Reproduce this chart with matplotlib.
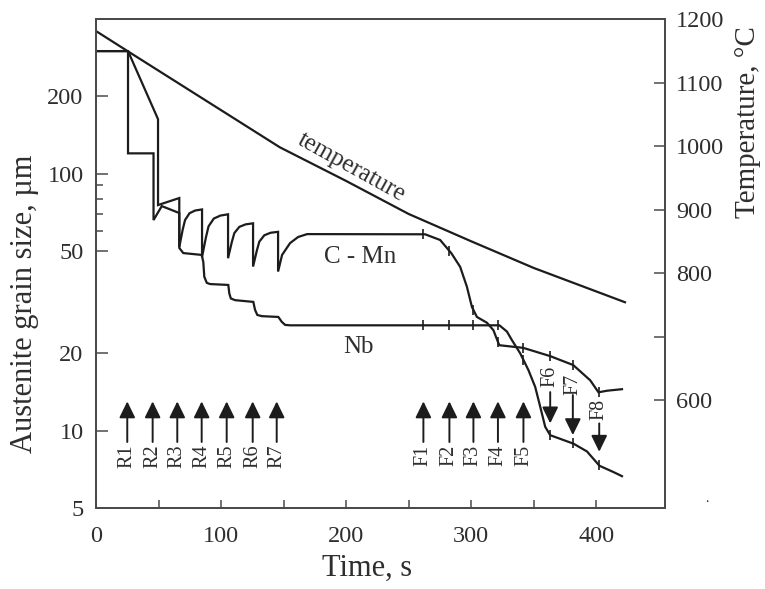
import numpy as np
import matplotlib
matplotlib.use("Agg")
import matplotlib.pyplot as plt
from matplotlib import transforms

# ---- data -------------------------------------------------------------
# temperature history (s, degC)
temp_time = [0, 25.6, 147, 200, 250, 300, 350, 423]
temp_vals = [1181, 1149, 998, 945, 893, 850, 808, 754]

# C-Mn steel austenite grain size (s, um)
cmn_time = [0, 25.6, 49.6, 49.6, 66.6, 66.6, 69.3, 71.2, 74.8, 79.3, 84.8,
            84.8, 87.9, 90.0, 94.2, 99.4, 105.6, 105.6, 108.6, 110.6, 114.6,
            119.6, 125.6, 125.6, 128.6, 130.6, 134.6, 139.6, 145.6, 145.6,
            148.8, 155.2, 161.6, 168.8, 263.2, 275.2, 284.2, 291.2, 296.6,
            300.6, 304.6, 312.6, 317.8, 321.8, 322.6, 341.6, 363.2, 381.6,
            395.2, 401.8, 408.6, 420.6]
cmn_size = [300, 300, 163, 75.5, 80.4, 51.8, 60.5, 66.0, 70.2, 71.9, 72.6,
            47.4, 56.5, 62.4, 66.9, 68.7, 69.5, 46.9, 54.2, 58.7, 62.1,
            63.5, 64.1, 43.5, 50.2, 54.4, 57.6, 58.9, 59.4, 41.6,
            48.3, 53.7, 56.7, 58.2, 58.1, 55.2, 49.0, 43.4, 36.3,
            30.3, 27.7, 26.3, 24.6, 21.9, 21.5, 21.0, 19.5, 18.0,
            15.7, 14.1, 14.3, 14.5]

# Nb steel austenite grain size (s, um)
nb_time = [0, 25.6, 25.6, 46.0, 46.0, 52.6, 66.6, 66.6, 69.8, 84.5,
           85.8, 86.6, 88.6, 91.2, 105.8, 106.6, 107.8, 111.2, 125.8, 127.2,
           129.0, 132.6, 145.8, 148.6, 151.2, 155.2, 322.6, 328.6, 332.6, 339.2,
           345.8, 351.2, 355.2, 359.2, 363.2, 381.8, 392.6, 402.6, 413.8, 420.6]
nb_size = [300, 300, 120, 120, 66, 74.8, 70.3, 51.4, 49.1, 48.3,
           45.4, 39.7, 37.6, 37.2, 36.9, 34.2, 32.7, 32.2, 31.7, 29.5,
           28.2, 27.9, 27.7, 26.5, 25.8, 25.7, 25.7, 24.3, 22.5, 20.0,
           17.2, 14.8, 12.4, 10.35, 9.6, 8.9, 8.3, 7.3, 6.9, 6.65]

# rolling passes
rough_time = [25, 45.3, 65, 84.5, 104.5, 125.3, 144.5]
rough_labels = ["R1", "R2", "R3", "R4", "R5", "R6", "R7"]
finish_time = [261.8, 282.6, 301.8, 321.4, 341.8, 363.2, 381.3, 402.4]
finish_labels = ["F1", "F2", "F3", "F4", "F5", "F6", "F7", "F8"]

size_ticks = [5, 10, 20, 50, 100, 200]
size_minor = [60, 70, 80, 90]
temp_ticks = [600, 700, 800, 900, 1000, 1100, 1200]
temp_tick_labels = ["600", "", "800", "900", "1000", "1100", "1200"]
time_ticks = [0, 100, 200, 300, 400]
time_minor = [50, 150, 250, 350]

# ---- style ------------------------------------------------------------
INK = "#1c1c1c"
TXT = "#2e2e2e"
SPN = "#4a4a4a"
plt.rcParams["font.family"] = ["Liberation Serif", "DejaVu Serif"]
plt.rcParams["text.color"] = TXT
plt.rcParams["axes.labelcolor"] = TXT
plt.rcParams["xtick.color"] = SPN
plt.rcParams["ytick.color"] = SPN
plt.rcParams["xtick.labelcolor"] = TXT
plt.rcParams["ytick.labelcolor"] = TXT

fig = plt.figure(figsize=(7.65, 5.89), dpi=100)
ax = fig.add_axes([96 / 765, 81 / 589, 569 / 765, 489 / 589])
ax2 = ax.twinx()

LW = 1.6

# grain size curves
ax.plot(cmn_time, cmn_size, color=INK, lw=LW, solid_joinstyle="miter")
ax.plot(nb_time, nb_size, color=INK, lw=LW, solid_joinstyle="miter")

# pass marks on the curves during finishing
for t_arr, s_arr in ((cmn_time, cmn_size), (nb_time, nb_size)):
    marks = 10 ** np.interp(finish_time, t_arr, np.log10(s_arr))
    ax.plot(finish_time, marks, ls="none", marker="|", ms=7, mew=1.2,
            color=INK)

# temperature curve
ax2.plot(temp_time, temp_vals, color=INK, lw=LW)

# axes limits and ticks
ax.set_xlim(0, 455)
ax.set_yscale("log")
ax.set_ylim(5, 400)
ax2.set_ylim(430, 1200)

ax.set_xticks(time_ticks)
ax.set_xticklabels([str(v) for v in time_ticks])
ax.set_xticks(time_minor, minor=True)
ax.set_yticks(size_ticks)
ax.set_yticklabels([str(v) for v in size_ticks])
ax.set_yticks(size_minor, minor=True)
ax.yaxis.set_minor_formatter(matplotlib.ticker.NullFormatter())
ax2.set_yticks(temp_ticks)
ax2.set_yticklabels(temp_tick_labels)

ax.tick_params(axis="x", which="both", direction="in", length=6, width=1.1,
               labelsize=17.5, pad=13)
ax.tick_params(axis="y", which="major", direction="in", length=8.5, width=1.1,
               labelsize=17.5, pad=9)
ax.tick_params(axis="y", which="minor", direction="in", length=5, width=1.1)
ax.tick_params(axis="y", which="both", right=False)
ax2.tick_params(axis="y", which="major", direction="in", length=8, width=1.1,
                labelsize=17.5, pad=8)

for a in (ax, ax2):
    for sp in a.spines.values():
        sp.set_color(SPN)
        sp.set_linewidth(1.3)

ax.set_xlabel("Time, s", fontsize=22)
ax.xaxis.label.set_va("center")
ax.xaxis.set_label_coords(0.476, -0.123)
ax.set_ylabel("Austenite grain size, \u00b5m", fontsize=22)
ax.yaxis.label.set_va("center")
ax.yaxis.set_label_coords(-0.1265, 0.417)
ax2.set_ylabel("Temperature, \u00b0C", fontsize=21)
ax2.yaxis.label.set_va("center")
ax2.yaxis.set_label_coords(1.145, 0.789)

# curve labels
ax2.text(204.6, 966, "temperature", rotation=-29, rotation_mode="anchor",
         ha="center", va="center", fontsize=18)
ax.text(211.6, 47.5, "C - Mn", ha="center", va="center", fontsize=18)
ax.text(209.6, 21.2, "Nb", ha="center", va="center", fontsize=18)

# pass arrows (x in data, y in axes fraction)
bt = transforms.blended_transform_factory(ax.transData, ax.transAxes)
arrow_kw = dict(arrowstyle="-|>,head_length=0.45,head_width=0.22",
                mutation_scale=22, lw=1.4, color=INK, shrinkA=0, shrinkB=0)

up_times = rough_time + finish_time[:5]
up_labels = rough_labels + finish_labels[:5]
for t, lab in zip(up_times, up_labels):
    ax.annotate("", xy=(t, 0.218), xytext=(t, 0.135), xycoords=bt,
                textcoords=bt, arrowprops=arrow_kw)
    ax.text(t, 0.130, lab, transform=bt, rotation=90, ha="center",
            va="top", fontsize=14.5)

down_label_top = [0.291, 0.274, 0.223]
down_start = [0.237, 0.231, 0.173]
down_end = [0.173, 0.149, 0.115]
for t, lab, ly, y0, y1 in zip(finish_time[5:], finish_labels[5:],
                              down_label_top, down_start, down_end):
    ax.annotate("", xy=(t, y1), xytext=(t, y0), xycoords=bt, textcoords=bt,
                arrowprops=arrow_kw)
    ax.text(t, ly, lab, transform=bt, rotation=90, ha="center", va="top",
            fontsize=14.5)

fig.text(707 / 765, 1 - 499 / 589, ".", fontsize=10, color=INK,
         ha="center", va="center")

fig.savefig("out.png", dpi=100, facecolor="white")
